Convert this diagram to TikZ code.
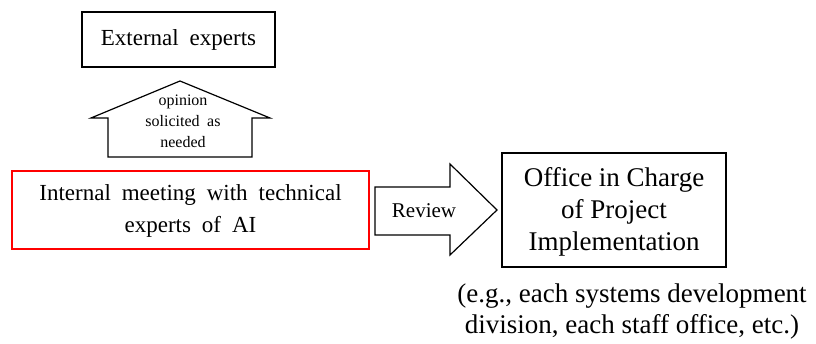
\documentclass[tikz,border=0pt]{standalone}
\usepackage{fontspec}
\setmainfont{Liberation Serif}
\newfontfamily\widesp[WordSpace=1.9]{Liberation Serif}
\begin{document}
\begin{tikzpicture}[x=1pt,y=-1pt,
  box/.style={draw=black,line width=1.6pt},
  redbox/.style={draw=red,line width=1.6pt},
  blockarrow/.style={draw=black,line width=1.2pt,line join=miter,fill=white},
  label/.style={align=center,inner sep=0pt}]
\useasboundingbox (0,0) rectangle (816,344);

% External experts
\draw[box] (82,12) rectangle (275,67);
\node[label,font=\widesp\fontsize{23}{28}\selectfont] (ext) at (178.5,40) {External experts};

% upward block arrow
\draw[blockarrow] (108,157) -- (108,118) -- (91,118) -- (180,81) -- (270,118)
  -- (252,118) -- (252,157) -- cycle;
\node[label,font=\widesp\fontsize{16}{21}\selectfont] (opinion) at (183,121)
  {opinion\\solicited as\\needed};

% internal meeting
\draw[redbox] (12,171) rectangle (369,249);
\node[label,font=\widesp\fontsize{23}{32}\selectfont] (internal) at (190.5,211)
  {Internal meeting with technical\\experts of AI};

% rightward block arrow
\draw[blockarrow] (375,187) -- (450,187) -- (450,164) -- (497,210) -- (450,255)
  -- (450,235) -- (375,235) -- cycle;
\node[label,font=\fontsize{21}{25}\selectfont] (review) at (424,211) {Review};

% office in charge
\draw[box] (502,153) rectangle (726,267);
\node[label,font=\fontsize{27}{32}\selectfont] (office) at (614,212)
  {Office in Charge\\of Project\\Implementation};

\node[label,font=\fontsize{27}{31}\selectfont] (eg) at (632,312)
  {(e.g., each systems development\\division, each staff office, etc.)};
\end{tikzpicture}
\end{document}
